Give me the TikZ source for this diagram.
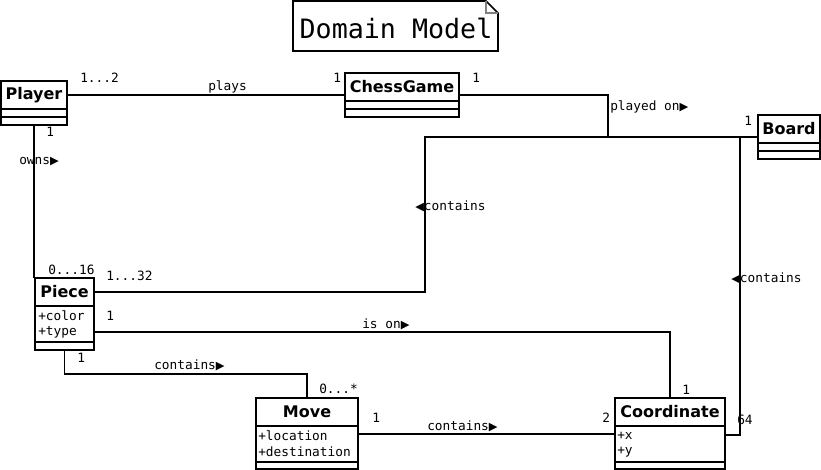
\documentclass[tikz,border=0pt]{standalone}
\usepackage{fontspec}
\setmainfont{DejaVu Sans}
\newfontfamily\monof{DejaVu Sans Mono}
\newfontfamily\symf{DejaVu Sans}
\usetikzlibrary{calc,fit}
\newcommand{\rt}{{\symf\fontsize{8.5}{9}\selectfont ▶}}
\newcommand{\lt}{{\symf\fontsize{8.5}{9}\selectfont ◀}}
\begin{document}
\begin{tikzpicture}[x=0.75pt,y=-0.75pt,
  part/.style={draw, line width=1.3pt, inner sep=0pt, fit={#1}},
  whole/.style={inner sep=0pt, fit={#1}},
  cls/.style={font=\bfseries\fontsize{12}{14}\selectfont, inner sep=0pt},
  lbl/.style={font=\monof\fontsize{9.6}{11}\selectfont, inner sep=0pt, anchor=west},
  attr/.style={font=\monof\fontsize{9.6}{11}\selectfont, inner sep=0pt, anchor=west},
  conn/.style={line width=1.3pt}]
\useasboundingbox (0,0) rectangle (821,470);
\fill[white] (0,0) rectangle (821,470);

% title note
\node[font=\monof\fontsize{20}{24}\selectfont, inner sep=0pt] (title) at (396,28) {Domain Model};
\draw[line width=1.3pt] (293,1) -- (486,1) -- (498,13) -- (498,51) -- (293,51) -- cycle;
\draw[line width=0.8pt, gray] (486,1) -- (486,13) -- (498,13);

% Player
\node[whole={(1,81)(67,125)}] (player) {};
\node[part={(1,81)(67,109)}] (playerh) {};
\node[part={(1,109)(67,117)}] {};
\node[part={(1,117)(67,125)}] {};
\node[cls] at (playerh) {Player};

% ChessGame
\node[whole={(345,73)(459,117)}] (chess) {};
\node[part={(345,73)(459,101)}] (chessh) {};
\node[part={(345,101)(459,109)}] {};
\node[part={(345,109)(459,117)}] {};
\node[cls] at (chessh) {ChessGame};

% Board
\node[whole={(758,115)(820,159)}] (board) {};
\node[part={(758,115)(820,143)}] (boardh) {};
\node[part={(758,143)(820,151)}] {};
\node[part={(758,151)(820,159)}] {};
\node[cls] at (boardh) {Board};

% Piece
\node[whole={(35,278)(94,350)}] (piece) {};
\node[part={(35,278)(94,306)}] (pieceh) {};
\node[part={(35,306)(94,342)}] (piecea) {};
\node[part={(35,342)(94,350)}] {};
\node[cls] at (pieceh) {Piece};
\node[attr] at (38,316) {+color};
\node[attr] at (38,332) {+type};

% Move
\node[whole={(256,398)(358,470)}] (move) {};
\node[part={(256,398)(358,426)}] (moveh) {};
\node[part={(256,426)(358,462)}] {};
\node[part={(256,462)(358,469)}] {};
\node[cls] at (moveh) {Move};
\node[attr] at (258,436) {+location};
\node[attr] at (258,452) {+destination};

% Coordinate
\node[whole={(615,398)(725,472)}] (coord) {};
\node[part={(615,398)(725,426)}] (coordh) {};
\node[part={(615,426)(725,462)}] {};
\node[part={(615,462)(725,469)}] {};
\node[cls] at (coordh) {Coordinate};
\node[attr] at (617,436) {+x};
\node[attr] at (617,452) {+y};

% bend points
\coordinate (j1) at (608,137);
\coordinate (j2) at (425,137);
\coordinate (j3) at (670,332);
\coordinate (j4) at (200,374);
\coordinate (j5) at (740,137);

% connectors
\draw[conn] (player.east |- chess.west) -- (chess.west);
\draw[conn] (chess.east) -| (j1) -- (board.west);
\draw[conn] (player.south) -- (player.south |- piece.north);
\draw[conn] (pieceh.east) -| (j2) -- (board.west);
\draw[conn] (piece.east |- j3) -- (j3) -- (coord.north);
\draw[conn] (piece.south) |- (j4) -| (move.north);
\draw[conn] (move.east) -- (move.east -| coord.west);
\draw[conn] (coord.east) -| (j5);

% labels
\node[lbl] at (208,87) {plays};
\node[lbl] at (80,78) {1...2};
\node[lbl] at (333,78) {1};
\node[lbl] at (472,78) {1};
\node[lbl] at (610,107) {played on\rt};
\node[lbl] at (744,121) {1};
\node[lbl] at (19,162) {owns\rt};
\node[lbl] at (46,132) {1};
\node[lbl] at (48,270) {0...16};
\node[lbl] at (106,276) {1...32};
\node[lbl] at (415,206) {\lt contains};
\node[lbl] at (106,316) {1};
\node[lbl] at (362,324) {is on\rt};
\node[lbl] at (682,390) {1};
\node[lbl] at (77,358) {1};
\node[lbl] at (154,365) {contains\rt};
\node[lbl] at (319,389) {0...*};
\node[lbl] at (372,418) {1};
\node[lbl] at (427,426) {contains\rt};
\node[lbl] at (602,418) {2};
\node[lbl] at (731,278) {\lt contains};
\node[lbl] at (737,420) {64};
\end{tikzpicture}
\end{document}
